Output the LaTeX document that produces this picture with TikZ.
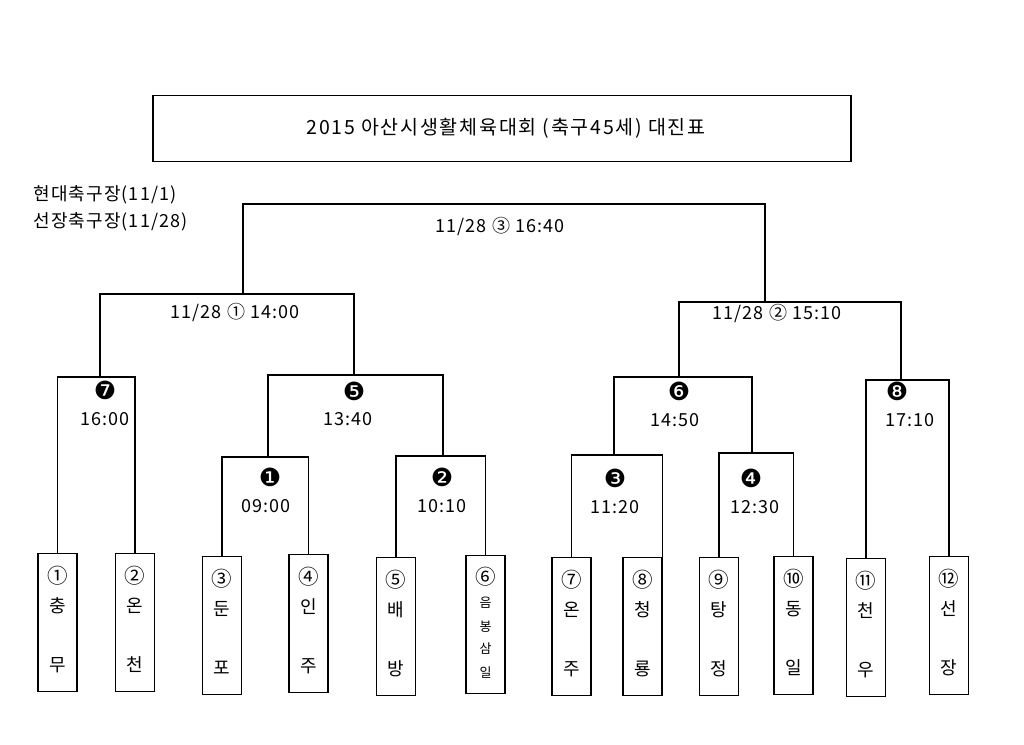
\documentclass[tikz,border=0pt]{standalone}
\usepackage{fontspec}
\setmainfont[LetterSpace=6]{Noto Sans CJK KR}
\newfontfamily\titlefont[LetterSpace=9]{Noto Sans CJK KR}
\newfontfamily\dingfont{DejaVu Sans}
\usetikzlibrary{positioning}
\tikzset{
  team/.style={draw, line width=1.2pt, minimum width=39pt, minimum height=138pt, anchor=north, inner sep=0pt},
  lbl/.style={font=\fontsize{18}{20}\selectfont, inner sep=0pt},
  num/.style={font=\fontsize{20.5}{22}\selectfont, inner sep=0pt},
  small/.style={font=\fontsize{13}{15}\selectfont, inner sep=0pt},
  dot/.style={font=\dingfont\fontsize{25}{27}\selectfont, inner sep=0pt},
  titlebox/.style={draw, line width=1.2pt, minimum width=698pt, minimum height=66pt}
}
\begin{document}
\begin{tikzpicture}[x=1pt,y=-1pt,line width=1.2pt]
  \useasboundingbox (0,0) rectangle (1024,744);
  \node[titlebox] (title) at (502,128.5) {};
  \node[font=\titlefont\fontsize{19.5}{21}\selectfont] (titletext) at (506,128.5) {2015 아산시생활체육대회 (축구45세) 대진표};
  \node[lbl, anchor=west] (venue1) at (33,195) {현대축구장(11/1)};
  \node[lbl, anchor=west] (venue2) at (33,222) {선장축구장(11/28)};

  \foreach \i/\x/\y/\c/\a/\b in {1/57.5/553/①/충/무, 2/135/553/②/온/천, 3/222/556/③/둔/포,
      4/308.5/554/④/인/주, 5/396/557/⑤/배/방, 7/571.5/557/⑦/온/주, 8/642.5/557/⑧/청/룡,
      9/719/557/⑨/탕/정, 10/793.5/556/⑩/동/일, 11/866/558/⑪/천/우, 12/949/556/⑫/선/장}{
    \node[team] (b\i) at (\x,\y) {};
    \node[num] (c\i) at ([yshift=-23pt]b\i.north) {\c};
    \node[lbl] (p\i) at ([yshift=-53pt]b\i.north) {\a};
    \node[lbl] (q\i) at ([yshift=-112pt]b\i.north) {\b};
  }
  \node[team] (b6) at (485.5,555) {};
  \node[num] (c6) at ([yshift=-22pt]b6.north) {⑥};
  \node[small] (p6) at ([yshift=-48pt]b6.north) {음};
  \node[small] (q6) at ([yshift=-72pt]b6.north) {봉};
  \node[small] (r6) at ([yshift=-94pt]b6.north) {삼};
  \node[small] (s6) at ([yshift=-118pt]b6.north) {일};

  \coordinate (m1) at (268,457);
  \coordinate (m2) at (443,456);
  \coordinate (m3) at (614,455);
  \coordinate (m4) at (752,453);
  \coordinate (m5) at (354,375);
  \coordinate (m6) at (679,377);
  \coordinate (m7) at (100,377);
  \coordinate (m8) at (901,380);
  \coordinate (s1) at (243,294);
  \coordinate (s2) at (765,302);
  \coordinate (fin) at (500,204);

  \draw (b3.north) |- (m1) -| (b4.north);
  \draw (b5.north) |- (m2) -| (b6.north);
  \draw (b7.north) |- (m3) -| (b8.north east);
  \draw (b9.north) |- (m4) -| (b10.north);
  \draw (m1) |- (m5) -| (m2);
  \draw (m3) |- (m6) -| (m4);
  \draw (b1.north) |- (m7) -| (b2.north);
  \draw (b11.north) |- (m8) -| (b12.north);
  \draw (m7) |- (s1) -| (m5);
  \draw (m6) |- (s2) -| (m8);
  \draw (s1) |- (fin) -| (s2);

  \foreach \i/\x/\y/\t/\u/\v/\w in {1/270/477/❶/266/506/09:00, 2/442/477/❷/442/506/10:10,
      3/615/478/❸/615/507/11:20, 4/751/478/❹/755/507/12:30, 5/354/391/❺/348/419/13:40,
      6/679/391/❻/675/420/14:50, 7/105/390/❼/105/419/16:00, 8/897/391/❽/910/420/17:10}{
    \node[dot] (n\i) at (\x,\y) {\t};
    \node[lbl] (t\i) at (\u,\v) {\w};
  }
  \node[lbl] (d1) at (235,312) {11/28 ① 14:00};
  \node[lbl] (d2) at (777,313) {11/28 ② 15:10};
  \node[lbl] (d3) at (500,226) {11/28 ③ 16:40};
\end{tikzpicture}
\end{document}
